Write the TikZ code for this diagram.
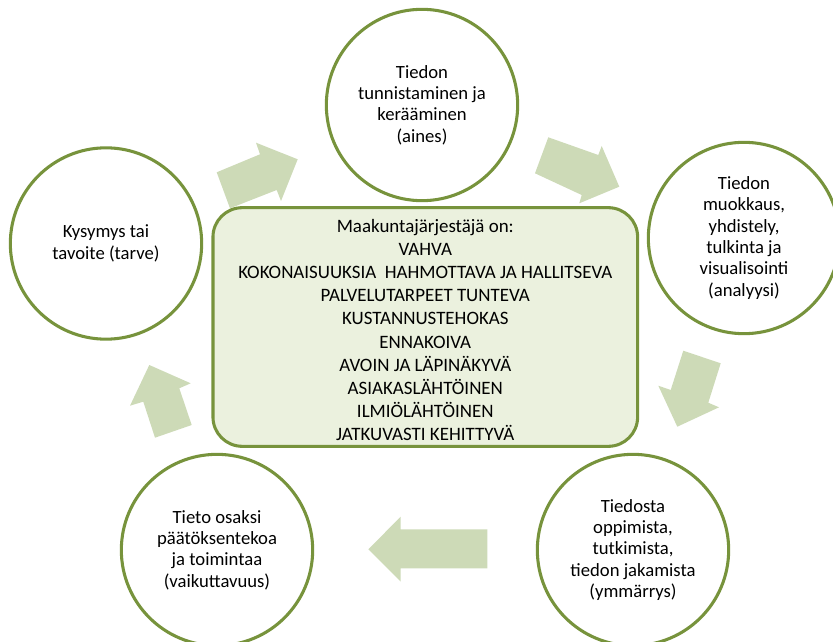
\documentclass[tikz,border=0pt]{standalone}
\usepackage{fontspec}
\setmainfont{Carlito}
\usepackage{tikz}

\definecolor{olive}{RGB}{119,147,60}
\definecolor{boxfill}{RGB}{235,241,222}
\definecolor{arrowfill}{RGB}{205,218,183}

\tikzset{
  phase/.style={draw=olive, line width=2.3pt, fill=white, circle, minimum size=143.5pt,
    inner sep=0pt, align=center, font=\fontsize{14}{16}\selectfont},
  centrebox/.style={draw=olive, line width=2.3pt, fill=boxfill, rounded corners=22pt,
    minimum width=318.5pt, minimum height=179pt},
  boxtext/.style={align=center, font=\fontsize{14.2}{17.4}\selectfont},
  flow/.style={fill=arrowfill}
}

\begin{document}
\begin{tikzpicture}[x=0.75pt,y=0.75pt,yscale=-1,xscale=1]
\useasboundingbox (0,0) rectangle (833,642);

%Shape: Right Arrow [up right]
\fill[flow] (216.7,172.3) -- (260,154.3) -- (256,142.7) -- (297.7,159.3) -- (281,201) -- (276.7,190) -- (230,208.3) -- cycle ;
%Shape: Right Arrow [down right]
\fill[flow] (548.3,137.3) -- (598.3,155) -- (601.7,146) -- (619.3,186.7) -- (579.3,203.3) -- (581.7,195) -- (535,173.3) -- cycle ;
%Shape: Right Arrow [down]
\fill[flow] (683.3,350.7) -- (720.7,363.3) -- (708.3,402.7) -- (719,407.3) -- (677.3,426.7) -- (658.3,385.7) -- (670.7,390) -- cycle ;
%Shape: Right Arrow [left]
\fill[flow] (487.3,529.3) -- (400.7,529.3) -- (400.7,516.7) -- (368.3,549.3) -- (400.7,581.7) -- (400.7,568.3) -- (487.3,568.3) -- cycle ;
%Shape: Right Arrow [up]
\fill[flow] (149.3,365) -- (190.7,383.3) -- (179.3,388.3) -- (191.7,425) -- (155,437.7) -- (143.3,401.7) -- (130,405.7) -- cycle ;

% Centre box
\node[centrebox] (organiser) at (425.3,327) {};
% Text Node
\node[boxtext] (qualities) at (425.3,330) {Maakuntajärjestäjä on:\\ VAHVA\\ KOKONAISUUKSIA\ \ HAHMOTTAVA JA HALLITSEVA\\ PALVELUTARPEET TUNTEVA\\ KUSTANNUSTEHOKAS\\ ENNAKOIVA\\ AVOIN JA LÄPINÄKYVÄ\\ ASIAKASLÄHTÖINEN\\ ILMIÖLÄHTÖINEN\\ JATKUVASTI KEHITTYVÄ};

% Circles
\node[phase] (need) at (106,243.5) {Kysymys tai\\ tavoite (tarve)};
\node[phase] (collect) at (422,105) {Tiedon\\ tunnistaminen ja\\ kerääminen\\ (aines)};
\node[phase] (analyse) at (744,238) {Tiedon\\ muokkaus,\\ yhdistely,\\ tulkinta ja\\ visualisointi\\ (analyysi)};
\node[phase] (learn) at (633,550) {Tiedosta\\ oppimista,\\ tutkimista,\\ tiedon jakamista\\ (ymmärrys)};
\node[phase] (impact) at (217,550) {Tieto osaksi\\ päätöksentekoa\\ ja toimintaa\\ (vaikuttavuus)};

\end{tikzpicture}
\end{document}
